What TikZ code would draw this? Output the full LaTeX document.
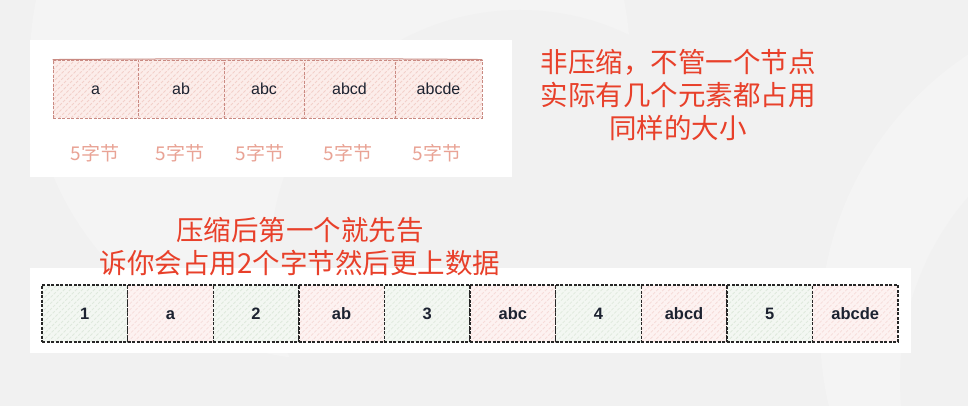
\documentclass[tikz,border=0pt]{standalone}
\usepackage{fontspec}
\setmainfont{Liberation Sans}
\newfontfamily\cjk{Noto Sans CJK SC}
\usetikzlibrary{calc}
\definecolor{bgc}{HTML}{F1F1F1}
\definecolor{bgl}{HTML}{F4F4F4}
\definecolor{redtxt}{HTML}{E8402A}
\definecolor{lbl}{HTML}{E9A395}
\definecolor{tstroke}{HTML}{C98A82}
\definecolor{tfill}{HTML}{FCEDEA}
\definecolor{thatch}{HTML}{F3D0CA}
\definecolor{gfill}{HTML}{F3F7F2}
\definecolor{ghatch}{HTML}{DFE9DD}
\definecolor{pfill}{HTML}{FDF2F1}
\definecolor{phatch}{HTML}{F6DCD9}
\definecolor{boxtxt}{HTML}{1C2230}
\tikzset{
  hatch/.style={path picture={
    \foreach \k in {-90,-84,...,100}{
      \draw[#1,line width=0.8pt] ($(path picture bounding box.south west)+(\k pt,0)$) -- ++(80pt,80pt);}}},
  topbox/.style={draw=tstroke,dash pattern=on 3pt off 1.5pt,line width=0.9pt,fill=tfill,hatch=thatch,
    minimum height=58pt,inner sep=0pt,text height=11.5pt,text depth=0pt,text=boxtxt,font=\fontsize{16}{16}\selectfont,anchor=center},
  gbox/.style={draw=black!85,dash pattern=on 3pt off 1.5pt,line width=1.4pt,fill=gfill,hatch=ghatch,
    minimum height=57pt,minimum width=85.6pt,inner sep=0pt,text height=12pt,text depth=0pt,text=boxtxt,font=\fontsize{16.5}{16.5}\selectfont\bfseries},
  pbox/.style={gbox,fill=pfill,hatch=phatch},
  bytelbl/.style={text=lbl,font=\cjk\fontsize{19}{19}\selectfont,inner sep=0pt},
  note/.style={text=redtxt,font=\cjk\fontsize{27.5}{33}\selectfont,align=center,inner sep=0pt},
  panel/.style={fill=white,draw=none}
}
\begin{document}
\begin{tikzpicture}[x=1pt,y=-1pt]
\useasboundingbox (0,0) rectangle (968,406);
% background
\fill[bgc] (0,0) rectangle (968,406);
\begin{scope}
\clip (0,0) rectangle (968,406);
\fill[bgl] (330,60) circle (300);
\fill[bgc] (520,260) circle (250);
\fill[bgl] (1150,330) circle (330);
\fill[bgc] (1180,380) circle (280);
\end{scope}
% panels
\fill[panel] (30,40) rectangle (512,177);
\fill[panel] (30,268) rectangle (911,353);
% top row
\node[topbox,minimum width=85pt] (t1) at (95.5,89) {a};
\node[topbox,minimum width=86pt] (t2) at (181,89) {ab};
\node[topbox,minimum width=80pt] (t3) at (264,89) {abc};
\node[topbox,minimum width=91pt] (t4) at (349.5,89) {abcd};
\node[topbox,minimum width=87pt] (t5) at (438.5,89) {abcde};
\draw[tstroke,line width=1pt] (t1.north west) .. controls (200,58.5) and (380,58.5) .. (t5.north east);
% byte labels
\node[bytelbl] (b1) at (95,153) {5字节};
\node[bytelbl] (b2) at (180,153) {5字节};
\node[bytelbl] (b3) at (260,153) {5字节};
\node[bytelbl] (b4) at (348,153) {5字节};
\node[bytelbl] (b5) at (437,153) {5字节};
% notes
\node[note] (n1) at (678,95) {非压缩，不管一个节点\\实际有几个元素都占用\\同样的大小};
\node[note] (n2) at (300,247) {压缩后第一个就先告\\诉你会占用2个字节然后更上数据};
% bottom row
\node[gbox] (c1) at (84.8,313.5) {1};
\node[pbox] (c2) at (170.4,313.5) {a};
\node[gbox] (c3) at (256,313.5) {2};
\node[pbox] (c4) at (341.6,313.5) {ab};
\node[gbox] (c5) at (427.2,313.5) {3};
\node[pbox] (c6) at (512.8,313.5) {abc};
\node[gbox] (c7) at (598.4,313.5) {4};
\node[pbox] (c8) at (684,313.5) {abcd};
\node[gbox] (c9) at (769.6,313.5) {5};
\node[pbox] (c10) at (855.2,313.5) {abcde};
\end{tikzpicture}
\end{document}
